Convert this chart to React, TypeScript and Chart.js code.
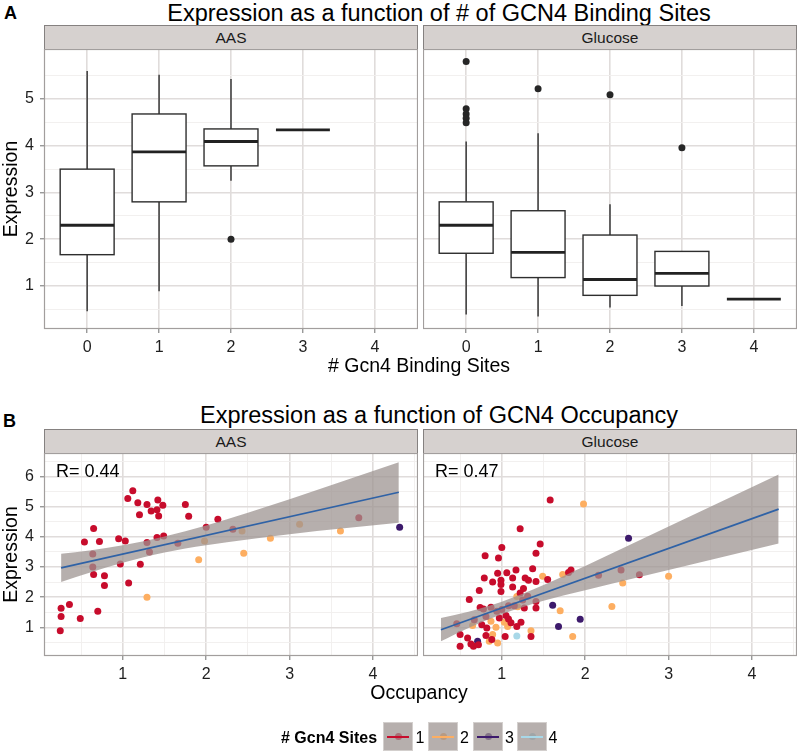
import React, { useEffect, useRef } from "react";
import { Chart, registerables } from "chart.js";

Chart.register(...registerables);

const FONT = '"Liberation Sans", Arial, Helvetica, sans-serif';

// ---------------- Panel A: expression by number of binding sites ----------------
const siteCounts = [0, 1, 2, 3, 4];

const aasLowerWhisker = [0.46, 0.89, 3.25, 4.34, null];
const aasQ1 = [1.67, 2.8, 3.57, 4.34, null];
const aasMedian = [2.3, 3.87, 4.09, 4.34, null];
const aasQ3 = [3.5, 4.68, 4.36, 4.34, null];
const aasUpperWhisker = [5.6, 5.52, 5.43, 4.34, null];
const aasOutliers = [[2, 2.0]];

const glcLowerWhisker = [0.39, 0.35, 0.54, 0.57, 0.72];
const glcQ1 = [1.7, 1.18, 0.8, 1.0, 0.72];
const glcMedian = [2.3, 1.72, 1.14, 1.27, 0.72];
const glcQ3 = [2.8, 2.61, 2.09, 1.74, 0.72];
const glcUpperWhisker = [4.09, 4.27, 2.75, 1.74, 0.72];
const glcOutliers = [[0, 5.8], [0, 4.79], [0, 4.68], [0, 4.59], [0, 4.49], [1, 5.22], [2, 5.09], [3, 3.96]];

const boxYTicks = [0.5, 1, 1.5, 2, 2.5, 3, 3.5, 4, 4.5, 5, 5.5];

// ---------------- Panel B: expression by occupancy ----------------
const occXTicks = [0.5, 1, 1.5, 2, 2.5, 3, 3.5, 4, 4.5];
const occYTicks = [0.5, 1, 1.5, 2, 2.5, 3, 3.5, 4, 4.5, 5, 5.5, 6, 6.5];

const aasSites1 = [
  [0.26, 1.63], [0.26, 1.36], [0.25, 0.89], [0.36, 1.76], [0.49, 1.29], [0.54, 3.83], [0.65, 4.28],
  [0.64, 3.43], [0.64, 3.0], [0.65, 2.75], [0.7, 1.53], [0.72, 3.85], [0.78, 2.71], [0.78, 2.39],
  [0.95, 3.94], [0.97, 3.1], [1.03, 3.86], [1.06, 5.27], [1.12, 5.53], [1.18, 5.13], [1.2, 4.73],
  [1.07, 2.47], [1.21, 3.09], [1.29, 5.07], [1.29, 3.81], [1.32, 3.5], [1.34, 4.86], [1.41, 4.9],
  [1.42, 5.22], [1.43, 4.69], [1.48, 5.05], [1.41, 3.98], [1.49, 4.03], [1.66, 3.79], [1.75, 5.07],
  [1.79, 4.68], [2.0, 4.32], [2.14, 4.58], [2.32, 4.25], [3.83, 4.63],
];
const aasSites2 = [
  [1.29, 2.0], [1.91, 3.24], [1.98, 3.86], [2.43, 4.19], [2.45, 3.46], [2.77, 3.95], [3.12, 4.42], [3.61, 4.19],
];
const aasSites3 = [[4.32, 4.32]];
const aasSites4: number[][] = [];

const glcSites1 = [
  [1.58, 5.22], [1.22, 4.27], [1.46, 3.76], [1.0, 3.65], [0.8, 3.37], [0.96, 3.3], [1.41, 3.46],
  [1.17, 2.9], [1.37, 2.94], [1.06, 2.81], [0.95, 2.79], [1.83, 2.9], [1.8, 2.82], [1.55, 2.59],
  [0.79, 2.64], [0.89, 2.5], [0.99, 2.56], [0.99, 2.42], [1.13, 2.64], [1.28, 2.64], [1.32, 2.56],
  [1.41, 2.52], [0.73, 2.22], [1.13, 2.34], [1.26, 2.29], [0.99, 2.19], [1.22, 2.14], [0.61, 1.92],
  [1.25, 1.91], [2.16, 2.73], [2.43, 2.9], [2.65, 2.74], [0.74, 1.66], [0.87, 1.67], [0.78, 1.61],
  [0.97, 1.31], [1.05, 1.39], [1.41, 1.86], [1.41, 1.64], [1.27, 1.64], [1.15, 1.72], [1.08, 1.28],
  [1.23, 1.17], [1.0, 1.59], [1.08, 1.72], [0.81, 1.36], [0.67, 1.25], [0.46, 1.12], [0.94, 1.53],
  [0.76, 1.09], [1.11, 1.15], [0.5, 0.76], [0.82, 0.98], [1.18, 1.03], [0.59, 0.65], [1.04, 0.7],
  [1.35, 0.7], [0.5, 0.37], [0.66, 0.37], [0.63, 0.45], [0.81, 0.73], [0.72, 0.42], [0.88, 0.6],
  [1.31, 2.03],
];
const glcSites2 = [
  [1.98, 5.09], [1.73, 2.75], [1.49, 2.69], [2.45, 2.47], [3.0, 2.69], [2.32, 1.69], [1.7, 1.55],
  [1.03, 1.17], [1.19, 1.68], [0.87, 1.2], [0.65, 1.06], [0.93, 1.0], [1.07, 1.03], [1.35, 0.89],
  [0.89, 0.76], [0.95, 0.48], [1.85, 0.7], [0.85, 0.54], [1.18, 2.02],
];
const glcSites3 = [[2.52, 3.95], [1.61, 1.73], [1.94, 1.27], [1.68, 1.03], [0.71, 0.54]];
const glcSites4 = [[1.18, 0.71]];

// linear fit and its confidence band
const aasFitX = [0.26, 4.31];
const aasFitY = [2.97, 5.48];
const aasBandX = [0.26, 0.6, 1.0, 1.5, 2.0, 3.0, 4.31];
const aasBandLow = [2.5, 2.81, 3.14, 3.48, 3.72, 4.09, 4.47];
const aasBandHigh = [3.44, 3.55, 3.72, 4.01, 4.38, 5.25, 6.47];

const glcFitX = [0.27, 4.32];
const glcFitY = [0.92, 4.92];
const glcBandX = [0.27, 0.6, 1.0, 1.5, 2.0, 3.0, 4.32];
const glcBandLow = [0.54, 0.98, 1.43, 1.88, 2.23, 2.9, 3.78];
const glcBandHigh = [1.31, 1.52, 1.85, 2.4, 3.03, 4.34, 6.07];

const siteLabels = ["1", "2", "3", "4"];
const siteColors = ["#C70C2C", "#FDAE61", "#3D1A6C", "#A8D8E8"];

const BAND = "rgba(156,147,145,0.74)";
const MAJOR_GRID = "#E0DCDB";
const MINOR_GRID = "#F0EEED";

const isMajor = (v: number) => Math.abs(v - Math.round(v)) < 1e-6;

// ---------------- helpers ----------------
const panelPlugin = {
  id: "panelFrame",
  beforeDraw(chart: any) {
    const { ctx, chartArea: a } = chart;
    ctx.save();
    ctx.fillStyle = "#FFFFFF";
    ctx.fillRect(a.left, a.top, a.right - a.left, a.bottom - a.top);
    ctx.restore();
  },
  afterDraw(chart: any) {
    const { ctx, chartArea: a } = chart;
    ctx.save();
    ctx.strokeStyle = "#A29E9D";
    ctx.lineWidth = 1.2;
    ctx.strokeRect(a.left + 0.5, a.top + 0.5, a.right - a.left - 1, a.bottom - a.top - 1);
    ctx.restore();
  },
};

function boxPlugin(lo: any[], q1: any[], med: any[], q3: any[], hi: any[]) {
  return {
    id: "boxes",
    afterDatasetsDraw(chart: any) {
      const xs = chart.scales.x;
      const ys = chart.scales.y;
      const ctx = chart.ctx;
      ctx.save();
      siteCounts.forEach((c, i) => {
        if (med[i] == null) return;
        const xc = xs.getPixelForValue(c);
        const xl = xs.getPixelForValue(c - 0.375);
        const xr = xs.getPixelForValue(c + 0.375);
        const yLo = ys.getPixelForValue(lo[i]);
        const yQ1 = ys.getPixelForValue(q1[i]);
        const yMed = ys.getPixelForValue(med[i]);
        const yQ3 = ys.getPixelForValue(q3[i]);
        const yHi = ys.getPixelForValue(hi[i]);
        ctx.strokeStyle = "#2E2E2E";
        ctx.lineWidth = 1.4;
        ctx.beginPath();
        ctx.moveTo(xc, yHi);
        ctx.lineTo(xc, yQ3);
        ctx.moveTo(xc, yQ1);
        ctx.lineTo(xc, yLo);
        ctx.stroke();
        if (yQ1 - yQ3 > 0.5) {
          ctx.fillStyle = "#FFFFFF";
          ctx.fillRect(xl, yQ3, xr - xl, yQ1 - yQ3);
          ctx.strokeRect(xl, yQ3, xr - xl, yQ1 - yQ3);
        }
        ctx.strokeStyle = "#222222";
        ctx.lineWidth = 2.9;
        ctx.beginPath();
        ctx.moveTo(xl, yMed);
        ctx.lineTo(xr, yMed);
        ctx.stroke();
      });
      ctx.restore();
    },
  };
}

function gridOpts(showTicks: boolean) {
  return {
    color: (c: any) => (isMajor(c.tick?.value ?? 0) ? MAJOR_GRID : MINOR_GRID),
    lineWidth: (c: any) => (isMajor(c.tick?.value ?? 0) ? 1.6 : 0.9),
    drawTicks: showTicks,
    tickLength: 4,
    tickWidth: 1,
    tickColor: (c: any) => (isMajor(c.tick?.value ?? 0) ? "#6E6E6E" : "rgba(0,0,0,0)"),
  };
}

function xAxis(min: number, max: number, ticks: number[], height: number) {
  return {
    type: "linear",
    position: "bottom",
    min,
    max,
    afterBuildTicks: (s: any) => {
      s.ticks = ticks.map((v) => ({ value: v }));
    },
    afterFit: (s: any) => {
      s.height = height;
      s.paddingLeft = 0;
      s.paddingRight = 0;
      s.paddingTop = 0;
      s.paddingBottom = 0;
    },
    ticks: {
      autoSkip: false,
      maxRotation: 0,
      minRotation: 0,
      padding: 5,
      color: "#1E1E1E",
      font: { family: FONT, size: 16 },
      callback: (v: any) => (isMajor(Number(v)) ? String(Math.round(Number(v))) : ""),
    },
    grid: gridOpts(true),
    border: { display: false },
  };
}

function yAxis(min: number, max: number, ticks: number[], showLabels: boolean) {
  return {
    type: "linear",
    position: "left",
    min,
    max,
    afterBuildTicks: (s: any) => {
      s.ticks = ticks.map((v) => ({ value: v }));
    },
    afterFit: (s: any) => {
      s.width = showLabels ? 44 : 0;
      s.paddingLeft = 0;
      s.paddingRight = 0;
      s.paddingTop = 0;
      s.paddingBottom = 0;
    },
    ticks: {
      display: showLabels,
      autoSkip: false,
      padding: 6,
      color: "#1E1E1E",
      font: { family: FONT, size: 16 },
      callback: (v: any) => (isMajor(Number(v)) ? String(Math.round(Number(v))) : ""),
    },
    grid: gridOpts(showLabels),
    border: { display: false },
    title: {
      display: showLabels,
      text: "Expression",
      color: "#000000",
      font: { family: FONT, size: 19.5, lineHeight: 1.2 },
      padding: 0,
    },
  };
}

const baseOptions = {
  responsive: false,
  animation: false,
  events: [],
  layout: { padding: 0, autoPadding: false },
  plugins: { legend: { display: false }, tooltip: { enabled: false } },
};

function boxConfig(lo: any[], q1: any[], med: any[], q3: any[], hi: any[], outliers: number[][], showY: boolean) {
  return {
    type: "scatter",
    data: {
      datasets: [
        {
          data: outliers.map(([x, y]) => ({ x, y })),
          backgroundColor: "#262626",
          pointRadius: 3.5,
          borderWidth: 0,
        },
      ],
    },
    options: {
      ...baseOptions,
      scales: {
        x: xAxis(-0.6, 4.6, siteCounts, 31),
        y: yAxis(0.08, 6.07, boxYTicks, showY),
      },
    },
    plugins: [panelPlugin, boxPlugin(lo, q1, med, q3, hi)],
  };
}

function scatterConfig(
  groups: number[][][],
  fitX: number[],
  fitY: number[],
  bandX: number[],
  bandLow: number[],
  bandHigh: number[],
  showY: boolean
) {
  const pointSets = groups.map((g, i) => ({
    type: "scatter",
    data: g.map(([x, y]) => ({ x, y })),
    backgroundColor: siteColors[i],
    pointRadius: 3.5,
    borderWidth: 0,
    order: 3,
  }));
  return {
    type: "scatter",
    data: {
      datasets: [
        {
          type: "line",
          data: bandX.map((x, i) => ({ x, y: bandHigh[i] })),
          fill: "+1",
          backgroundColor: BAND,
          borderWidth: 0,
          pointRadius: 0,
          cubicInterpolationMode: "monotone",
          order: 2,
        },
        {
          type: "line",
          data: bandX.map((x, i) => ({ x, y: bandLow[i] })),
          fill: false,
          borderWidth: 0,
          pointRadius: 0,
          cubicInterpolationMode: "monotone",
          order: 2,
        },
        {
          type: "line",
          data: fitX.map((x, i) => ({ x, y: fitY[i] })),
          fill: false,
          borderColor: "#2F62A6",
          borderWidth: 1.7,
          pointRadius: 0,
          order: 1,
        },
        ...pointSets,
      ],
    },
    options: {
      ...baseOptions,
      scales: {
        x: xAxis(0.055, 4.54, occXTicks, 30),
        y: yAxis(0.05, 6.78, occYTicks, showY),
      },
    },
    plugins: [panelPlugin],
  };
}

function ChartBox({ left, top, width, height, build }: any) {
  const ref = useRef<HTMLCanvasElement>(null);
  useEffect(() => {
    const chart = new Chart(ref.current as HTMLCanvasElement, build());
    return () => chart.destroy();
  }, []);
  return (
    <canvas
      ref={ref}
      width={width}
      height={height}
      style={{ position: "absolute", left, top, width, height }}
    />
  );
}

function Text({ x, cy, size, children, center = false, bold = false }: any) {
  return (
    <div
      style={{
        position: "absolute",
        left: x,
        top: cy - size / 2,
        fontSize: size,
        lineHeight: `${size}px`,
        whiteSpace: "nowrap",
        fontWeight: bold ? "bold" : "normal",
        transform: center ? "translateX(-50%)" : undefined,
        color: "#000",
      }}
    >
      {children}
    </div>
  );
}

function Strip({ left, top, label }: any) {
  return (
    <div
      style={{
        position: "absolute",
        left,
        top,
        width: 374,
        height: 25,
        boxSizing: "border-box",
        background: "#D6D1CF",
        border: "1px solid #858180",
        fontSize: 15.5,
        lineHeight: "23px",
        textAlign: "center",
        color: "#1A1A1A",
      }}
    >
      {label}
    </div>
  );
}

const keyLefts = [383, 428, 473, 517];
const keyLabelX = [420, 464.5, 509.5, 553];

export default function App() {
  return (
    <div
      style={{
        position: "absolute",
        left: 0,
        top: 0,
        width: 800,
        height: 755,
        background: "#FFFFFF",
        fontFamily: FONT,
        overflow: "hidden",
      }}
    >
      {/* Panel A */}
      <Text x={4} cy={13} size={18} bold>A</Text>
      <Text x={439} cy={13.5} size={23.5} center>Expression as a function of # of GCN4 Binding Sites</Text>
      <Strip left={44} top={25} label="AAS" />
      <Strip left={423} top={25} label="Glucose" />
      <ChartBox
        left={0}
        top={49}
        width={418}
        height={311}
        build={() => boxConfig(aasLowerWhisker, aasQ1, aasMedian, aasQ3, aasUpperWhisker, aasOutliers, true)}
      />
      <ChartBox
        left={423}
        top={49}
        width={374}
        height={311}
        build={() => boxConfig(glcLowerWhisker, glcQ1, glcMedian, glcQ3, glcUpperWhisker, glcOutliers, false)}
      />
      <Text x={419} cy={366} size={19.5} center># Gcn4 Binding Sites</Text>

      {/* Panel B */}
      <Text x={3} cy={421} size={18} bold>B</Text>
      <Text x={439} cy={415.5} size={23.5} center>Expression as a function of GCN4 Occupancy</Text>
      <Strip left={44} top={429} label="AAS" />
      <Strip left={423} top={429} label="Glucose" />
      <ChartBox
        left={0}
        top={453}
        width={418}
        height={233}
        build={() =>
          scatterConfig(
            [aasSites1, aasSites2, aasSites3, aasSites4],
            aasFitX,
            aasFitY,
            aasBandX,
            aasBandLow,
            aasBandHigh,
            true
          )
        }
      />
      <ChartBox
        left={423}
        top={453}
        width={374}
        height={233}
        build={() =>
          scatterConfig(
            [glcSites1, glcSites2, glcSites3, glcSites4],
            glcFitX,
            glcFitY,
            glcBandX,
            glcBandLow,
            glcBandHigh,
            false
          )
        }
      />
      <Text x={56} cy={471} size={18}>R= 0.44</Text>
      <Text x={435} cy={471} size={18}>R= 0.47</Text>
      <Text x={419} cy={693} size={19.5} center>Occupancy</Text>

      {/* Legend */}
      <Text x={281} cy={737.5} size={16} bold># Gcn4 Sites</Text>
      {siteLabels.map((lab, i) => (
        <React.Fragment key={lab}>
          <div
            style={{
              position: "absolute",
              left: keyLefts[i],
              top: 722,
              width: 30,
              height: 29,
              boxSizing: "border-box",
              border: "1px solid #D3CFCD",
              background: "#FFFFFF",
            }}
          >
            <div
              style={{
                position: "absolute",
                left: 10.5,
                top: 10,
                width: 7,
                height: 7,
                borderRadius: "50%",
                background: siteColors[i],
              }}
            />
            <div style={{ position: "absolute", left: 0, top: 0, right: 0, bottom: 0, background: BAND }} />
            <div
              style={{
                position: "absolute",
                left: 3,
                right: 3,
                top: 12.5,
                height: 2,
                background: siteColors[i],
              }}
            />
          </div>
          <Text x={keyLabelX[i]} cy={737.5} size={16} center>{lab}</Text>
        </React.Fragment>
      ))}
    </div>
  );
}
